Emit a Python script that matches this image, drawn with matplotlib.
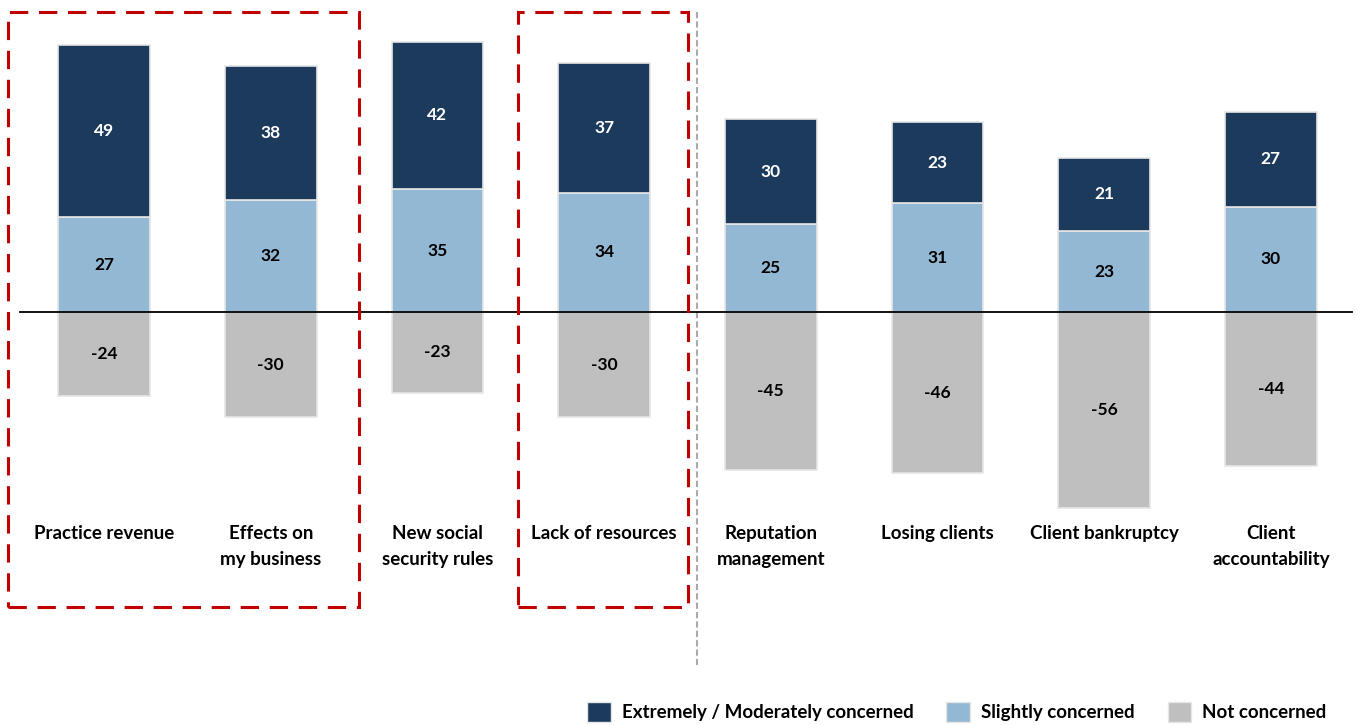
import matplotlib.pyplot as plt
from matplotlib.patches import Patch, Rectangle

categories = ["Practice revenue", "Effects on\nmy business", "New social\nsecurity rules",
              "Lack of resources", "Reputation\nmanagement", "Losing clients",
              "Client bankruptcy", "Client\naccountability"]
extremely = [49, 38, 42, 37, 30, 23, 21, 27]
slightly = [27, 32, 35, 34, 25, 31, 23, 30]
not_concerned = [-24, -30, -23, -30, -45, -46, -56, -44]

series_names = ["Extremely / Moderately concerned", "Slightly concerned", "Not concerned"]
colors = ["#1B3A5C", "#93B8D3", "#BFBFBF"]

plt.rcParams['font.family'] = ['Lato', 'DejaVu Sans']

fig = plt.figure(figsize=(13.57, 7.25), dpi=100)
ax = fig.add_axes([0, 0, 1, 1])
ax.set_xlim(-0.624, 7.517)
ax.set_ylim(-117.7, 88.9)
ax.axis('off')

x = list(range(len(categories)))
w = 0.55
edge = dict(edgecolor="#E6E6E6", linewidth=1.2)
ax.bar(x, slightly, w, color=colors[1], **edge, zorder=2)
ax.bar(x, extremely, w, bottom=slightly, color=colors[0], **edge, zorder=2)
ax.bar(x, not_concerned, w, color=colors[2], **edge, zorder=2)

for i in x:
    ax.text(i, slightly[i] + extremely[i] / 2, str(extremely[i]), ha='center', va='center',
            color='white', fontsize=12.5, fontweight='bold', zorder=3)
    ax.text(i, slightly[i] / 2, str(slightly[i]), ha='center', va='center',
            color='black', fontsize=12.5, fontweight='bold', zorder=3)
    ax.text(i, not_concerned[i] / 2, str(not_concerned[i]), ha='center', va='center',
            color='black', fontsize=12.5, fontweight='bold', zorder=3)
    ax.text(i, -60.8, categories[i], ha='center', va='top', color='black',
            fontsize=13.5, fontweight='bold', linespacing=1.62)

# zero line
ax.plot([-0.504, 7.49], [0, 0], color='black', linewidth=1.3, zorder=4)

# highlight boxes
for x0, x1 in [(-0.576, 1.53), (2.483, 3.503)]:
    ax.add_patch(Rectangle((x0, -84.0), x1 - x0, 85.5 + 84.0, fill=False,
                           edgecolor='#C00000', linewidth=2.2, linestyle=(0, (6, 3.5)), zorder=5))

# separator
ax.plot([3.557, 3.557], [85.5, -100.6], color='#AAAAAA', linewidth=1.5,
        linestyle=(0, (3, 1.5)), zorder=1)

handles = [Patch(facecolor=c, edgecolor='#E6E6E6', label=n) for c, n in zip(colors, series_names)]
fig.legend(handles=handles, loc='center right', bbox_to_anchor=(0.99, 0.018), ncol=3,
           frameon=False, handlelength=1.25, handleheight=1.25,
           columnspacing=1.75, handletextpad=0.6, prop={'weight': 'bold', 'size': 13.5})

fig.savefig("out.png", dpi=100)
